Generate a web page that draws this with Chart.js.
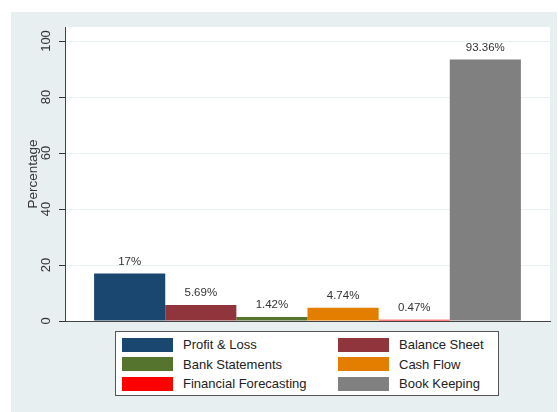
<!DOCTYPE html>
<html>
<head>
<meta charset="utf-8">
<script src="https://cdn.jsdelivr.net/npm/chart.js@4"></script>
<style>
html, body { margin: 0; padding: 0; background: #fff; }
#wrap { position: relative; width: 558px; height: 412px; overflow: hidden; }
#legend {
    position: absolute; left: 115px; top: 331px; width: 382px; height: 63px;
    border: 1px solid #555; background: #fff;
    font-family: "Liberation Sans", Arial, sans-serif; font-size: 13px; color: #222;
}
.item { position: absolute; display: flex; align-items: center; height: 15px; white-space: nowrap; }
.sw { width: 51px; height: 14px; margin-right: 10px; }
</style>
</head>
<body>
<div id="wrap">
    <canvas id="chart" width="558" height="412"></canvas>
    <div id="legend"></div>
</div>
<script>
const categories = ['Profit & Loss', 'Balance Sheet', 'Bank Statements', 'Cash Flow', 'Financial Forecasting', 'Book Keeping'];
const percentages = [17, 5.69, 1.42, 4.74, 0.47, 93.36];
const barColors = ['#1a476f', '#90353b', '#55752f', '#e37e00', '#ff0000', '#808080'];
const yTicks = [0, 20, 40, 60, 80, 100];
const yTitle = 'Percentage';

const FONT = '"Liberation Sans", Arial, sans-serif';

// stata-ish background: bluish graph region, white plot region
const background = {
    id: 'background',
    beforeDraw(chart) {
        let ctx = chart.ctx;
        let a = chart.chartArea;
        ctx.save();
        ctx.fillStyle = '#fff';
        ctx.fillRect(0, 0, chart.width, chart.height);
        ctx.fillStyle = '#e8eff1';
        ctx.fillRect(11, 12, 546, 400);
        ctx.fillStyle = '#fff';
        ctx.fillRect(a.left, a.top, a.right - a.left, a.bottom - a.top);
        ctx.restore();
    }
};

// value labels on top of each bar
const barLabels = {
    id: 'barLabels',
    afterDatasetsDraw(chart) {
        let ctx = chart.ctx;
        ctx.save();
        ctx.font = '11.5px ' + FONT;
        ctx.fillStyle = '#333';
        ctx.textAlign = 'center';
        ctx.textBaseline = 'bottom';
        chart.data.datasets.forEach((ds, i) => {
            let bar = chart.getDatasetMeta(i).data[0];
            ctx.fillText(ds.data[0] + '%', bar.x, bar.y - 6);
        });
        ctx.restore();
    }
};

// vertical tick labels on the y axis (read bottom to top)
const yTickLabels = {
    id: 'yTickLabels',
    afterDraw(chart) {
        let ctx = chart.ctx;
        let y = chart.scales.y;
        ctx.save();
        ctx.font = '13px ' + FONT;
        ctx.fillStyle = '#333';
        ctx.textAlign = 'center';
        ctx.textBaseline = 'middle';
        y.ticks.forEach(t => {
            ctx.save();
            ctx.translate(46.5, y.getPixelForValue(t.value));
            ctx.rotate(-Math.PI / 2);
            ctx.fillText(String(t.value), 0, 0);
            ctx.restore();
        });
        ctx.restore();
    }
};

new Chart(document.getElementById('chart').getContext('2d'), {
    type: 'bar',
    data: {
        labels: [''],
        datasets: categories.map((c, i) => ({
            label: c,
            data: [percentages[i]],
            backgroundColor: barColors[i],
            borderWidth: 0,
        }))
    },
    options: {
        responsive: false,
        animation: false,
        layout: { padding: { top: 27, right: 8, bottom: 91, left: 0 } },
        datasets: { bar: { categoryPercentage: 0.88, barPercentage: 1 } },
        plugins: { legend: { display: false }, tooltip: { enabled: false } },
        scales: {
            x: {
                grid: { display: false, drawTicks: false },
                ticks: { display: false },
                border: { display: true, color: '#444', width: 1 },
                afterFit: s => { s.height = 0; }
            },
            y: {
                min: 0,
                max: 105,
                afterBuildTicks: s => { s.ticks = yTicks.map(v => ({ value: v })); },
                afterFit: s => { s.width = 65; },
                ticks: { display: false },
                grid: { color: '#eaf1f2', tickColor: '#333', tickLength: 6, drawTicks: true },
                border: { display: true, color: '#444', width: 1 },
                title: {
                    display: true,
                    text: yTitle,
                    color: '#333',
                    font: { family: FONT, size: 13.5 },
                    padding: { top: 25, bottom: 0 }
                }
            }
        }
    },
    plugins: [background, barLabels, yTickLabels]
});

// legend box, two columns
let legend = document.getElementById('legend');
categories.forEach((c, i) => {
    let col = i % 2, row = Math.floor(i / 2);
    legend.innerHTML += `<div class="item" style="left:${6 + col * 216}px;top:${5 + row * 19.5}px">` +
        `<span class="sw" style="background:${barColors[i]}"></span>${c.replace('&', '&amp;')}</div>`;
});
</script>
</body>
</html>
